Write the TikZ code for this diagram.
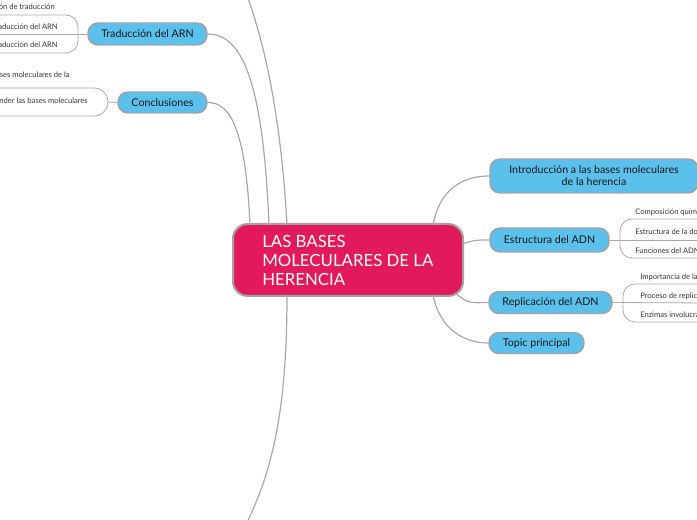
\documentclass[tikz,border=0pt]{standalone}
\usepackage{fontspec}
\setmainfont{Lato}
\definecolor{pinkc}{HTML}{E2195B}
\definecolor{bluec}{HTML}{5BC0EB}
\definecolor{linec}{HTML}{A8A8A8}
\definecolor{borderc}{HTML}{A3A3A3}
\begin{document}
\begin{tikzpicture}[x=0.75pt,y=-0.75pt,
 topic/.style={draw=borderc, line width=1.1pt, fill=bluec, rounded corners=7.5pt, inner sep=0pt, font=\fontsize{8}{9}\selectfont, text=black!90},
 conn/.style={draw=linec, line width=0.9pt},
 brk/.style={draw=linec, line width=0.6pt},
 sub/.style={font=\fontsize{5.7}{7}\selectfont, text=black!80, inner sep=0pt, anchor=base west},
 subl/.style={sub, anchor=base east}]
\useasboundingbox (0,0) rectangle (697,520);
\clip (0,0) rectangle (697,520);

% connector end points on the central topic
\coordinate (c1) at (250,225);
\coordinate (c2) at (269,225);
\coordinate (c3) at (287,225);
\coordinate (c4) at (287,295);
\coordinate (c5) at (433,225);
\coordinate (c6) at (462,244);
\coordinate (c7) at (455,293);
\coordinate (c8) at (433,295);
\coordinate (topend) at (245,-10);
\coordinate (botend) at (243,530);

% center node
\node[draw=borderc, line width=1.5pt, fill=pinkc, rounded corners=11pt, minimum width=172.5pt, minimum height=54pt, inner sep=0pt] (cbox) at (348,260) {};
\node[anchor=west, align=left, text=white, font=\fontsize{12.6}{14.6}\selectfont, inner sep=0pt] (ctext) at (262,260.5) {LAS BASES\\MOLECULARES DE LA\\HERENCIA};

% topic nodes
\node[topic, minimum width=156pt, minimum height=25.5pt, align=center] (intro) at (594,176) {Introducción a las bases moleculares\\de la herencia};
\node[topic, minimum width=89.25pt, minimum height=18pt] (estr) at (549.5,240) {Estructura del ADN};
\node[topic, minimum width=92.25pt, minimum height=16.5pt] (repl) at (550.5,302.5) {Replicación del ADN};
\node[topic, minimum width=71.25pt, minimum height=15.75pt] (topic) at (536.5,343) {Topic principal};
\node[topic, minimum width=89.25pt, minimum height=16.5pt] (trad) at (147.5,34) {Traducción del ARN};
\node[topic, minimum width=66.75pt, minimum height=15.75pt] (concl) at (162.5,102.5) {Conclusiones};

% center connectors
\draw[conn] (c1) .. controls (246,135) and (232,102) .. (concl.east);
\draw[conn] (c2) .. controls (263,75) and (240,34) .. (trad.east);
\draw[conn] (c3) .. controls (280,100) and (260,30) .. (topend);
\draw[conn] (c4) .. controls (287,400) and (275,470) .. (botend);
\draw[conn] (c5) .. controls (440,187) and (465,176) .. (intro.west);
\draw[conn] (c6) .. controls (475,240) .. (estr.west);
\draw[conn] (c7) .. controls (468,303) .. (repl.west);
\draw[conn] (c8) .. controls (440,330) and (465,343) .. (topic.west);

% Estructura del ADN subtopics
\coordinate (e1) at (710,240);
\draw[brk] (estr.east) -- (e1);
\draw[brk, rounded corners=9pt] (710,219) -- (620,219) -- (620,258) -- (710,258);
\node[sub] (e_a) at (635,214.5) {Composición química del ADN};
\node[sub] (e_b) at (635,235) {Estructura de la doble hélice};
\node[sub] (e_c) at (635,253.5) {Funciones del ADN};

% Replicacion subtopics
\coordinate (r1) at (710,303);
\draw[brk] (repl.east) -- (r1);
\draw[brk, rounded corners=9pt] (710,284) -- (623,284) -- (623,322) -- (710,322);
\node[sub] (r_a) at (640,279.5) {Importancia de la replicación};
\node[sub] (r_b) at (640,298.5) {Proceso de replicación};
\node[sub] (r_c) at (640,317.5) {Enzimas involucradas};

% Traduccion subtopics
\coordinate (t1) at (-10,34);
\draw[brk] (trad.west) -- (t1);
\draw[brk, rounded corners=9pt] (-10,15) -- (78,15) -- (78,53) -- (-10,53);
\node[subl] (t_a) at (55,9.5) {Definición de traducción};
\node[subl] (t_b) at (58,29.5) {Proceso de traducción del ARN};
\node[subl] (t_c) at (58,47.5) {Regulación de la traducción del ARN};

% Conclusiones subtopics
\coordinate (k1) at (108,102);
\draw[brk] (concl.west) -- (k1);
\draw[brk, rounded corners=10.5pt] (-10,88) -- (108,88) -- (108,116) -- (-10,116);
\node[subl] (k_a) at (70,77.5) {Resumen de las bases moleculares de la};
\node[subl] (k_b) at (88,103.5) {Importancia de comprender las bases moleculares};
\end{tikzpicture}
\end{document}
